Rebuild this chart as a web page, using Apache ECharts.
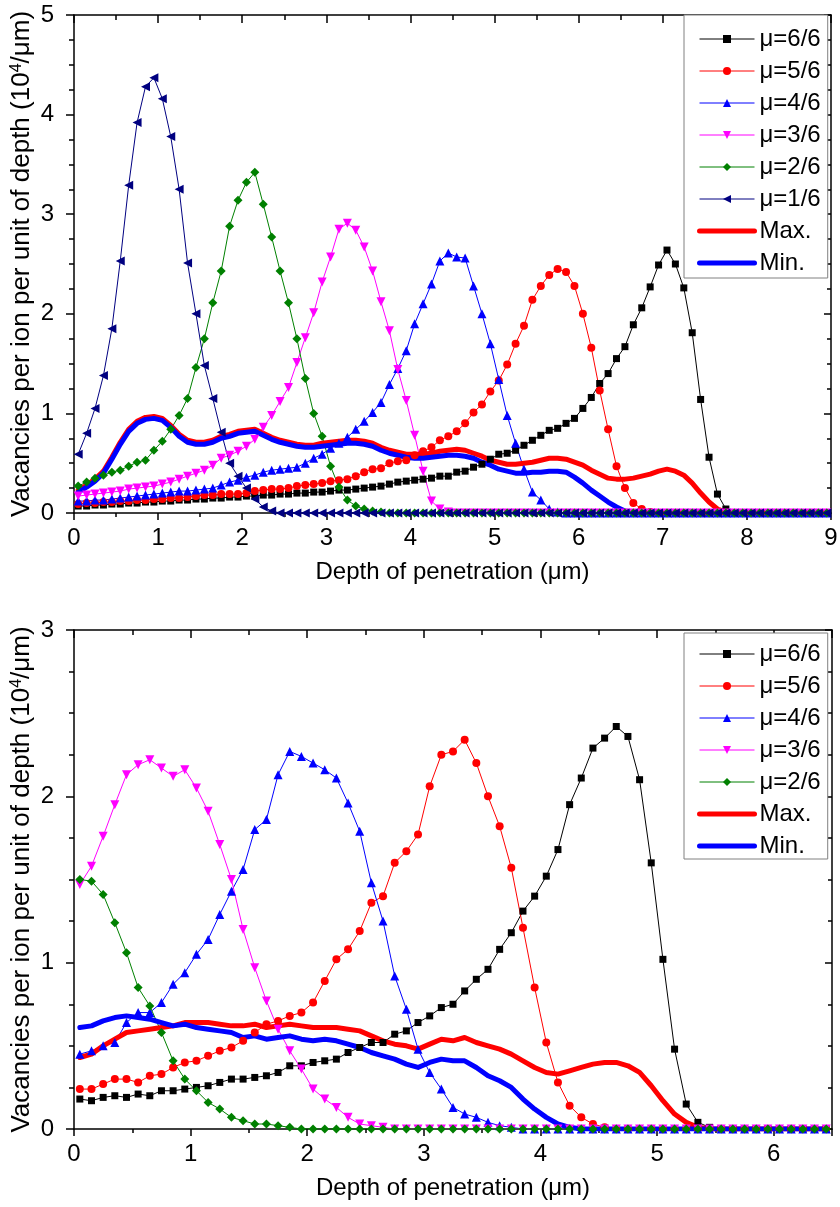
<!DOCTYPE html>
<html><head><meta charset="utf-8">
<script src="https://cdn.jsdelivr.net/npm/echarts@6/dist/echarts.min.js"></script>
<style>
html,body{margin:0;padding:0;background:#fff;}
#c1{position:absolute;left:0;top:0;width:840px;height:600px;}
#c2{position:absolute;left:0;top:600px;width:840px;height:607px;}
</style>
</head><body>
<div id="c1"></div><div id="c2"></div>
<script>
// ---------- DATA ----------
const depthTop = [
 0.05,0.15,0.25,0.35,0.45,0.55,0.65,0.75,0.85,0.95,
 1.05,1.15,1.25,1.35,1.45,1.55,1.65,1.75,1.85,1.95,
 2.05,2.15,2.25,2.35,2.45,2.55,2.65,2.75,2.85,2.95,
 3.05,3.15,3.25,3.35,3.45,3.55,3.65,3.75,3.85,3.95,
 4.05,4.15,4.25,4.35,4.45,4.55,4.65,4.75,4.85,4.95,
 5.05,5.15,5.25,5.35,5.45,5.55,5.65,5.75,5.85,5.95,
 6.05,6.15,6.25,6.35,6.45,6.55,6.65,6.75,6.85,6.95,
 7.05,7.15,7.25,7.35,7.45,7.55,7.65,7.75,7.85,7.95,
 8.05,8.15,8.25,8.35,8.45,8.55,8.65,8.75,8.85,8.95];
const depthBottom = [
 0.05,0.15,0.25,0.35,0.45,0.55,0.65,0.75,0.85,0.95,
 1.05,1.15,1.25,1.35,1.45,1.55,1.65,1.75,1.85,1.95,
 2.05,2.15,2.25,2.35,2.45,2.55,2.65,2.75,2.85,2.95,
 3.05,3.15,3.25,3.35,3.45,3.55,3.65,3.75,3.85,3.95,
 4.05,4.15,4.25,4.35,4.45,4.55,4.65,4.75,4.85,4.95,
 5.05,5.15,5.25,5.35,5.45,5.55,5.65,5.75,5.85,5.95,
 6.05,6.15,6.25,6.35,6.45];

// top panel
const topMu66 = [
 0.07,0.07,0.08,0.08,0.09,0.09,0.10,0.10,0.11,0.11,
 0.12,0.12,0.13,0.13,0.14,0.14,0.15,0.15,0.16,0.16,
 0.17,0.17,0.18,0.18,0.19,0.19,0.20,0.20,0.21,0.21,
 0.22,0.23,0.23,0.24,0.25,0.26,0.27,0.29,0.31,0.32,
 0.33,0.34,0.35,0.37,0.37,0.41,0.42,0.46,0.49,0.54,
 0.59,0.60,0.63,0.68,0.73,0.78,0.83,0.85,0.90,0.95,
 1.05,1.16,1.30,1.40,1.55,1.67,1.89,2.06,2.27,2.49,
 2.64,2.50,2.26,1.81,1.14,0.56,0.19,0.04,0,0,
 0,0,0,0,0,0,0,0,0,0];
const topMu56 = [
 0.09,0.10,0.10,0.11,0.11,0.12,0.12,0.13,0.13,0.14,
 0.14,0.15,0.15,0.16,0.17,0.18,0.18,0.19,0.19,0.19,
 0.20,0.22,0.23,0.24,0.24,0.25,0.27,0.28,0.29,0.30,
 0.32,0.33,0.34,0.37,0.41,0.44,0.45,0.50,0.52,0.53,
 0.58,0.62,0.66,0.73,0.77,0.82,0.90,1.01,1.09,1.22,
 1.33,1.49,1.70,1.88,2.14,2.28,2.39,2.45,2.42,2.28,
 2.00,1.66,1.23,0.84,0.47,0.25,0.10,0.04,0.01,0,
 0,0,0,0,0,0,0,0,0,0,
 0,0,0,0,0,0,0,0,0,0];
const topMu46 = [
 0.12,0.12,0.13,0.13,0.14,0.15,0.16,0.17,0.18,0.19,
 0.20,0.21,0.22,0.22,0.23,0.24,0.25,0.28,0.31,0.33,
 0.36,0.38,0.41,0.43,0.44,0.45,0.46,0.50,0.55,0.59,
 0.65,0.70,0.76,0.84,0.92,1.01,1.11,1.29,1.45,1.63,
 1.90,2.10,2.30,2.53,2.61,2.57,2.56,2.28,2.00,1.70,
 1.34,0.98,0.70,0.44,0.21,0.13,0.04,0.01,0,0,
 0,0,0,0,0,0,0,0,0,0,
 0,0,0,0,0,0,0,0,0,0,
 0,0,0,0,0,0,0,0,0,0];
const topMu36 = [
 0.17,0.18,0.19,0.20,0.21,0.22,0.24,0.25,0.26,0.27,
 0.29,0.31,0.34,0.37,0.40,0.43,0.48,0.55,0.58,0.62,
 0.67,0.74,0.86,0.98,1.12,1.26,1.51,1.76,2.01,2.32,
 2.57,2.85,2.91,2.84,2.67,2.43,2.12,1.83,1.44,1.13,
 0.78,0.42,0.12,0.04,0.01,0,0,0,0,0,
 0,0,0,0,0,0,0,0,0,0,
 0,0,0,0,0,0,0,0,0,0,
 0,0,0,0,0,0,0,0,0,0,
 0,0,0,0,0,0,0,0,0,0];
const topMu26 = [
 0.27,0.31,0.35,0.38,0.41,0.43,0.47,0.51,0.53,0.63,
 0.72,0.84,0.98,1.15,1.46,1.75,2.11,2.43,2.88,3.14,
 3.32,3.42,3.10,2.77,2.43,2.11,1.75,1.35,1.00,0.77,
 0.47,0.26,0.13,0.07,0.04,0.02,0.01,0,0,0,
 0,0,0,0,0,0,0,0,0,0,
 0,0,0,0,0,0,0,0,0,0,
 0,0,0,0,0,0,0,0,0,0,
 0,0,0,0,0,0,0,0,0,0,
 0,0,0,0,0,0,0,0,0,0];
const topMu16 = [
 0.59,0.80,1.05,1.38,1.85,2.53,3.29,3.92,4.28,4.37,
 4.16,3.78,3.25,2.51,2.00,1.48,1.15,0.81,0.50,0.37,
 0.25,0.14,0.06,0.02,0,0,0,0,0,0,
 0,0,0,0,0,0,0,0,0,0,
 0,0,0,0,0,0,0,0,0,0,
 0,0,0,0,0,0,0,0,0,0,
 0,0,0,0,0,0,0,0,0,0,
 0,0,0,0,0,0,0,0,0,0,
 0,0,0,0,0,0,0,0,0,0];
const topMax = [
 0.23,0.28,0.34,0.42,0.56,0.71,0.84,0.92,0.96,0.97,
 0.95,0.88,0.79,0.73,0.71,0.71,0.73,0.77,0.79,0.82,
 0.83,0.84,0.80,0.76,0.73,0.71,0.69,0.68,0.68,0.70,
 0.71,0.72,0.73,0.73,0.72,0.70,0.66,0.63,0.61,0.59,
 0.59,0.59,0.60,0.62,0.63,0.64,0.63,0.60,0.57,0.53,
 0.51,0.49,0.49,0.50,0.51,0.53,0.55,0.55,0.54,0.51,
 0.48,0.43,0.39,0.35,0.34,0.34,0.35,0.37,0.39,0.42,
 0.44,0.42,0.38,0.30,0.20,0.11,0.04,0.01,0,0,
 0,0,0,0,0,0,0,0,0,0];
const topMin = [
 0.21,0.26,0.32,0.40,0.54,0.69,0.82,0.90,0.94,0.95,
 0.93,0.86,0.77,0.71,0.69,0.69,0.71,0.75,0.77,0.80,
 0.81,0.82,0.78,0.74,0.71,0.69,0.67,0.66,0.66,0.67,
 0.68,0.69,0.70,0.70,0.69,0.67,0.63,0.60,0.58,0.56,
 0.55,0.55,0.56,0.57,0.58,0.58,0.57,0.55,0.51,0.48,
 0.44,0.42,0.40,0.40,0.41,0.41,0.42,0.42,0.41,0.36,
 0.30,0.23,0.17,0.11,0.06,0.02,0.01,0,0,0,
 0,0,0,0,0,0,0,0,0,0,
 0,0,0,0,0,0,0,0,0,0];

// bottom panel
const botMu66 = [
 0.18,0.17,0.19,0.20,0.19,0.21,0.20,0.23,0.23,0.24,
 0.25,0.26,0.28,0.30,0.30,0.31,0.32,0.34,0.38,0.38,
 0.40,0.41,0.42,0.46,0.49,0.52,0.52,0.57,0.59,0.64,
 0.68,0.73,0.75,0.83,0.90,0.96,1.08,1.18,1.31,1.40,
 1.52,1.68,1.95,2.11,2.29,2.35,2.42,2.36,2.10,1.60,
 1.02,0.48,0.15,0.04,0.01,0,0,0,0,0,
 0,0,0,0,0];
const botMu56 = [
 0.24,0.24,0.27,0.30,0.30,0.28,0.32,0.33,0.37,0.40,
 0.41,0.44,0.47,0.49,0.53,0.58,0.63,0.65,0.68,0.70,
 0.76,0.89,1.02,1.08,1.19,1.36,1.40,1.60,1.67,1.77,
 2.06,2.25,2.27,2.34,2.20,2.00,1.82,1.57,1.21,0.85,
 0.52,0.28,0.14,0.07,0.03,0.01,0,0,0,0,
 0,0,0,0,0,0,0,0,0,0,
 0,0,0,0,0];
const botMu46 = [
 0.45,0.47,0.50,0.52,0.64,0.70,0.70,0.76,0.87,0.94,
 1.05,1.14,1.29,1.43,1.56,1.80,1.86,2.13,2.27,2.24,
 2.20,2.16,2.11,1.96,1.79,1.48,1.25,0.92,0.72,0.48,
 0.34,0.24,0.13,0.09,0.07,0.04,0.02,0.01,0,0,
 0,0,0,0,0,0,0,0,0,0,
 0,0,0,0,0,0,0,0,0,0,
 0,0,0,0,0];
const botMu36 = [
 1.47,1.58,1.76,1.95,2.13,2.19,2.22,2.17,2.12,2.16,
 2.05,1.91,1.71,1.50,1.20,0.97,0.77,0.60,0.47,0.36,
 0.24,0.18,0.13,0.07,0.03,0.02,0.01,0,0,0,
 0,0,0,0,0,0,0,0,0,0,
 0,0,0,0,0,0,0,0,0,0,
 0,0,0,0,0,0,0,0,0,0,
 0,0,0,0,0];
const botMu26 = [
 1.50,1.49,1.41,1.24,1.06,0.85,0.74,0.58,0.41,0.30,
 0.23,0.16,0.12,0.07,0.05,0.03,0.03,0.02,0.01,0,
 0,0,0,0,0,0,0,0,0,0,
 0,0,0,0,0,0,0,0,0,0,
 0,0,0,0,0,0,0,0,0,0,
 0,0,0,0,0,0,0,0,0,0,
 0,0,0,0,0];
const botMax = [
 0.43,0.45,0.50,0.54,0.58,0.59,0.60,0.61,0.62,0.64,
 0.64,0.64,0.63,0.62,0.62,0.63,0.61,0.62,0.63,0.62,
 0.61,0.61,0.61,0.60,0.59,0.56,0.53,0.51,0.50,0.48,
 0.51,0.54,0.53,0.55,0.52,0.50,0.48,0.45,0.41,0.37,
 0.34,0.33,0.35,0.37,0.39,0.40,0.40,0.38,0.34,0.26,
 0.17,0.09,0.04,0.01,0,0,0,0,0,0,
 0,0,0,0,0];
const botMin = [
 0.61,0.62,0.65,0.67,0.68,0.67,0.66,0.64,0.62,0.63,
 0.61,0.60,0.59,0.58,0.55,0.56,0.54,0.55,0.56,0.54,
 0.53,0.54,0.53,0.51,0.49,0.46,0.44,0.42,0.39,0.37,
 0.40,0.42,0.41,0.41,0.37,0.32,0.29,0.25,0.18,0.12,
 0.07,0.03,0.01,0,0,0,0,0,0,0,
 0,0,0,0,0,0,0,0,0,0,
 0,0,0,0,0];

const namesTop = ['μ=6/6','μ=5/6','μ=4/6','μ=3/6','μ=2/6','μ=1/6','Max.','Min.'];
const valuesTop = [topMu66, topMu56, topMu46, topMu36, topMu26, topMu16, topMax, topMin];
const namesBottom = ['μ=6/6','μ=5/6','μ=4/6','μ=3/6','μ=2/6','Max.','Min.'];
const valuesBottom = [botMu66, botMu56, botMu46, botMu36, botMu26, botMax, botMin];
const xTitle = 'Depth of penetration (μm)';
const yTitle = 'Vacancies per ion per unit of depth (10{sup|4}/μm)';

// ---------- STYLE ----------
const FONT = '"Liberation Sans", Arial, Helvetica, sans-serif';
const STYLE = {
  'μ=6/6': {color:'#000000', symbol:'rect', size:7, rotate:0},
  'μ=5/6': {color:'#ff0000', symbol:'circle', size:8, rotate:0},
  'μ=4/6': {color:'#0000ff', symbol:'triangle', size:9, rotate:0},
  'μ=3/6': {color:'#ff00ff', symbol:'triangle', size:9, rotate:180},
  'μ=2/6': {color:'#008000', symbol:'diamond', size:9, rotate:0},
  'μ=1/6': {color:'#000080', symbol:'triangle', size:9, rotate:90},
  'Max.':  {color:'#ff0000', width:5},
  'Min.':  {color:'#0000ff', width:5}
};

function makeSeries(name, depth, values) {
  const s = STYLE[name];
  const data = depth.map((d, i) => [d, values[i]]);
  if (s.width) {
    return {type:'line', name, data, symbol:'none', xAxisIndex:0, yAxisIndex:0,
      lineStyle:{color:s.color, width:s.width, cap:'round', join:'round'},
      itemStyle:{color:s.color}, animation:false, silent:true};
  }
  return {type:'line', name, data, xAxisIndex:0, yAxisIndex:0,
    symbol:s.symbol, symbolSize:s.size, symbolRotate:s.rotate, showAllSymbol:true,
    lineStyle:{color:s.color, width:1}, itemStyle:{color:s.color},
    animation:false, silent:true};
}

const txt = {color:'#000', fontFamily:FONT, fontSize:24};
const line = {color:'#000', width:1.5};

function buildOption(cfg) {
  const gridRect = {left:74, top:cfg.gridTop, width:cfg.gridWidth, height:cfg.gridHeight,
                    containLabel:false, outerBoundsMode:'none'};
  return {
    animation:false,
    backgroundColor:'#fff',
    textStyle:{fontFamily:FONT},
    grid:[Object.assign({}, gridRect), Object.assign({}, gridRect)],
    xAxis:[
      {gridIndex:0, type:'value', position:'bottom', min:0, max:cfg.xMax, interval:0.5,
       axisLine:{show:true, onZero:false, lineStyle:line},
       axisTick:{show:true, inside:false, length:4, lineStyle:line},
       splitLine:{show:false},
       axisLabel:Object.assign({show:true, margin:13,
         formatter:(v) => Number.isInteger(v) ? String(v) : ''}, txt),
       name:xTitle, nameLocation:'middle', nameGap:47, nameMoveOverlap:false,
       nameTextStyle:Object.assign({}, txt)},
      {gridIndex:0, type:'value', position:'top', min:0, max:cfg.xMax, interval:0.5,
       axisLine:{show:true, onZero:false, lineStyle:line},
       axisTick:{show:true, inside:true, length:5, lineStyle:line},
       splitLine:{show:false}, axisLabel:{show:false}},
      {gridIndex:1, type:'value', position:'bottom', min:0, max:cfg.xMax, interval:1,
       axisLine:{show:false, onZero:false},
       axisTick:{show:true, inside:false, length:7, lineStyle:line},
       splitLine:{show:false}, axisLabel:{show:false}},
      {gridIndex:1, type:'value', position:'top', min:0, max:cfg.xMax, interval:1,
       axisLine:{show:false, onZero:false},
       axisTick:{show:true, inside:true, length:8, lineStyle:line},
       splitLine:{show:false}, axisLabel:{show:false}}
    ],
    yAxis:[
      {gridIndex:0, type:'value', position:'left', min:0, max:cfg.yMax, interval:1,
       axisLine:{show:true, onZero:false, lineStyle:line},
       axisTick:{show:true, inside:false, length:8, lineStyle:line},
       minorTick:{show:true, splitNumber:4, length:5, lineStyle:line},
       splitLine:{show:false}, minorSplitLine:{show:false},
       axisLabel:Object.assign({show:true, margin:20}, txt),
       name:yTitle, nameLocation:'middle', nameGap:39, nameMoveOverlap:false,
       nameTextStyle:Object.assign({}, txt, {fontSize:26, rich:{sup:{fontSize:16, fontFamily:FONT, color:'#000', verticalAlign:'top', lineHeight:24}}})},
      {gridIndex:0, type:'value', position:'right', min:0, max:cfg.yMax, interval:1,
       axisLine:{show:true, onZero:false, lineStyle:line},
       axisTick:{show:true, inside:true, length:7, lineStyle:line},
       minorTick:{show:true, splitNumber:4, length:4, lineStyle:line},
       splitLine:{show:false}, minorSplitLine:{show:false}, axisLabel:{show:false}},
      {gridIndex:1, type:'value', min:0, max:cfg.yMax, show:false}
    ],
    legend:{
      orient:'vertical', left:684, top:cfg.legendTop, padding:cfg.legendPadding,
      itemWidth:55, itemHeight:10, itemGap:6,
      backgroundColor:'#fff', borderColor:'#808080', borderWidth:1, borderRadius:0,
      selectedMode:false,
      textStyle:Object.assign({}, txt, {lineHeight:26}),
      lineStyle:{width:'inherit'},
      data:cfg.names.map(n => STYLE[n].width ? {name:n, itemStyle:{opacity:0}} : {name:n})
    },
    series:cfg.names.map((n, i) => makeSeries(n, cfg.depth, cfg.values[i]))
  };
}

const chartTop = echarts.init(document.getElementById('c1'), null, {renderer:'canvas'});
chartTop.setOption(buildOption({
  gridTop:15, gridWidth:757, gridHeight:498, xMax:9, yMax:5,
  legendTop:15, legendPadding:[11,7,2,13],
  names:namesTop, values:valuesTop, depth:depthTop
}));
const chartBottom = echarts.init(document.getElementById('c2'), null, {renderer:'canvas'});
chartBottom.setOption(buildOption({
  gridTop:30, gridWidth:758, gridHeight:499, xMax:6.5, yMax:3,
  legendTop:33, legendPadding:[8,7,0,13],
  names:namesBottom, values:valuesBottom, depth:depthBottom
}));
</script>
</body></html>
